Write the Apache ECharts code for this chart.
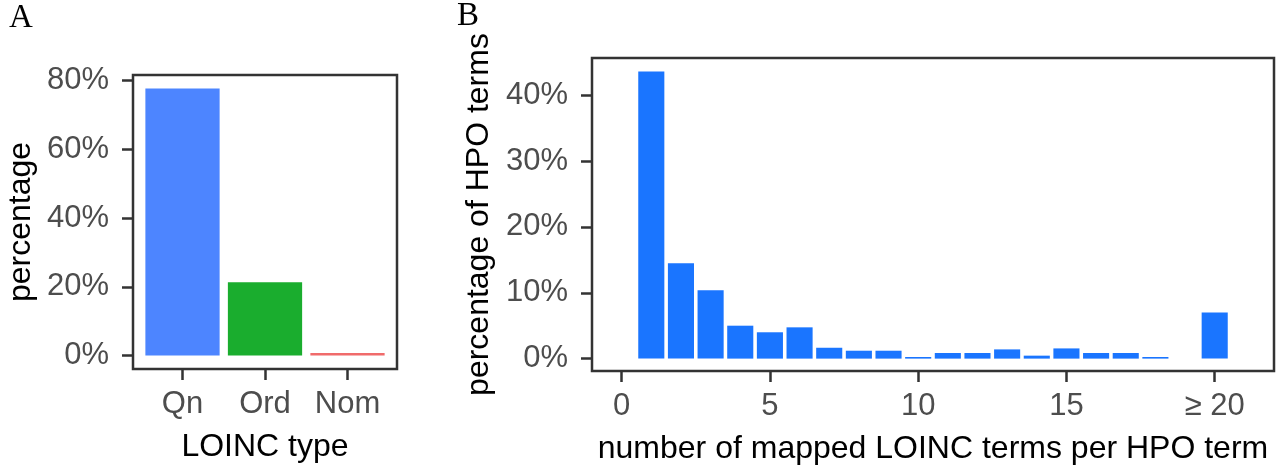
<!DOCTYPE html>
<html>
<head>
<meta charset="utf-8">
<script src="https://cdn.jsdelivr.net/npm/echarts@6/dist/echarts.min.js"></script>
<style>
  html, body {margin: 0; padding: 0; background: #fff;}
  #chart {width: 1280px; height: 470px;}
</style>
</head>
<body>
<div id="chart"></div>
<script>
// panel A: share of LOINC types
var loincTypes = ['Qn', 'Ord', 'Nom'];
var loincPercent = [77.7, 21.3, 0.75];
var loincColors = ['#4d85ff', '#1aad2e', '#f06b6b'];
var percentTicksA = [0, 20, 40, 60, 80];

// panel B: number of mapped LOINC terms per HPO term
var hpoCounts = [1, 2, 3, 4, 5, 6, 7, 8, 9, 10, 11, 12, 13, 14, 15, 16, 17, 18, 20];
var hpoPercent = [43.6, 14.5, 10.4, 5.0, 4.0, 4.75, 1.65, 1.2, 1.2, 0.25, 0.85, 0.85, 1.4, 0.45, 1.55, 0.85, 0.85, 0.25, 7.0];
var countTicks = [0, 5, 10, 15, 20];
var percentTicksB = [0, 10, 20, 30, 40];

var labelFont = 'Liberation Sans';
var axisGrey = '#333333';
var tickLabelColor = '#4d4d4d';

var dom_chart = document.getElementById('chart');
var chart = echarts.init(dom_chart);

function tickStyle(values){
    return {show: true, inside: false, length: 11, customValues: values, lineStyle: {color: axisGrey, width: 2.5}};
}

var dataA = [];
for (var i = 0; i < loincTypes.length; i++) {
    dataA.push({value: [i + 1, loincPercent[i]], itemStyle: {color: loincColors[i]}});
}
var dataB = [];
for (var j = 0; j < hpoCounts.length; j++) {
    dataB.push([hpoCounts[j], hpoPercent[j]]);
}

var hiddenLine = {show: false, onZero: false};

var option = {
    animation: false,
    backgroundColor: '#fff',
    textStyle: {fontFamily: labelFont},
    graphic: [
        {type: 'text', left: 9, top: 2, style: {text: 'A', font: '33px "Liberation Serif"', fill: '#000'}},
        {type: 'text', left: 457, top: 0, style: {text: 'B', font: '33px "Liberation Serif"', fill: '#000'}}
    ],
    grid: [
        {left: 133, right: 883, top: 75, bottom: 101, show: true, borderColor: axisGrey, borderWidth: 2.5, backgroundColor: '#fff'},
        {left: 592, right: 6, top: 58, bottom: 98, show: true, borderColor: axisGrey, borderWidth: 2.5, backgroundColor: '#fff'}
    ],
    xAxis: [
        {
            gridIndex: 0, type: 'value', min: 0.4, max: 3.6,
            name: 'LOINC type', nameLocation: 'middle', nameGap: 62,
            nameTextStyle: {fontSize: 32, color: '#000', fontFamily: labelFont},
            axisLine: hiddenLine, splitLine: {show: false},
            axisTick: tickStyle([1, 2, 3]),
            axisLabel: {
                customValues: [1, 2, 3], margin: 20, fontSize: 31, color: tickLabelColor, fontFamily: labelFont,
                formatter: function (v) { return loincTypes[Math.round(v) - 1]; }
            }
        },
        {
            gridIndex: 1, type: 'value', min: -1, max: 22,
            name: 'number of mapped LOINC terms per HPO term', nameLocation: 'middle', nameGap: 62,
            nameTextStyle: {fontSize: 32, color: '#000', fontFamily: labelFont},
            axisLine: hiddenLine, splitLine: {show: false},
            axisTick: tickStyle(countTicks),
            axisLabel: {
                customValues: countTicks, margin: 20, fontSize: 31, color: tickLabelColor, fontFamily: labelFont,
                formatter: function (v) { return v === 20 ? '\u2265 20' : String(v); }
            }
        }
    ],
    yAxis: [
        {
            gridIndex: 0, type: 'value', min: -3.9, max: 81.6,
            name: 'percentage', nameLocation: 'middle', nameGap: 96, nameRotate: 90,
            nameTextStyle: {fontSize: 32, color: '#000', fontFamily: labelFont},
            axisLine: hiddenLine, splitLine: {show: false},
            axisTick: tickStyle(percentTicksA),
            axisLabel: {
                customValues: percentTicksA, margin: 24, fontSize: 31, color: tickLabelColor, fontFamily: labelFont,
                formatter: function (v) { return v + '%'; }
            }
        },
        {
            gridIndex: 1, type: 'value', min: -1.88, max: 45.65,
            name: 'percentage of HPO terms', nameLocation: 'middle', nameGap: 96, nameRotate: 90,
            nameTextStyle: {fontSize: 32, color: '#000', fontFamily: labelFont},
            axisLine: hiddenLine, splitLine: {show: false},
            axisTick: tickStyle(percentTicksB),
            axisLabel: {
                customValues: percentTicksB, margin: 24, fontSize: 31, color: tickLabelColor, fontFamily: labelFont,
                formatter: function (v) { return v + '%'; }
            }
        }
    ],
    series: [
        {
            name: 'LOINC type', type: 'bar', xAxisIndex: 0, yAxisIndex: 0,
            barWidth: '90%', data: dataA
        },
        {
            name: 'HPO terms', type: 'bar', xAxisIndex: 1, yAxisIndex: 1,
            barWidth: '88%', itemStyle: {color: '#1a75ff'}, data: dataB
        }
    ]
};

chart.setOption(option);
</script>
</body>
</html>
